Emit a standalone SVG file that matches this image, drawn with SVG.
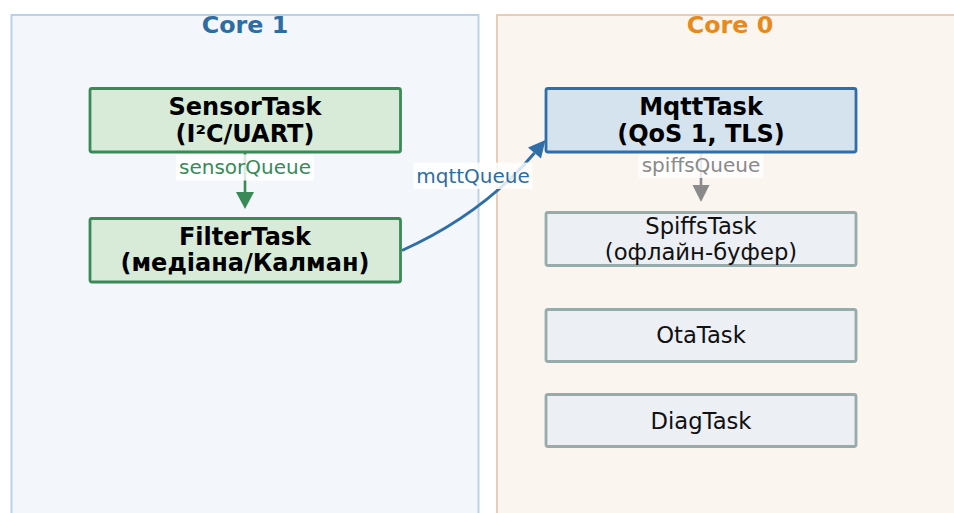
<svg xmlns="http://www.w3.org/2000/svg" width="954" height="513" viewBox="0 0 954 513">
  <style>
    text { font-family: "DejaVu Sans", "Noto Sans", sans-serif; text-anchor: middle; }
    .title { font-size: 23.8px; font-weight: bold; }
    .bold { font-size: 24px; font-weight: bold; fill: #000; }
    .plain { font-size: 22.7px; fill: #111; }
    .qlabel { font-size: 20px; }
    .lblbox { fill: #fff; fill-opacity: 0.82; }
    .green { fill: #d8ebd9; stroke: #3a8a57; stroke-width: 2.8; }
    .blue { fill: #d5e3ef; stroke: #2f6ea6; stroke-width: 2.8; }
    .gray { fill: #eceff4; stroke: #98abab; stroke-width: 2.8; }
  </style>
  <defs>
    <marker id="head-green" markerUnits="userSpaceOnUse" viewBox="-1 -10 20 20" markerWidth="20" markerHeight="20" refX="0" refY="0" orient="auto" overflow="visible">
      <path d="M0,-9 L17,0 L0,9 z" fill="#3a8a57"/>
    </marker>
    <marker id="head-gray" markerUnits="userSpaceOnUse" viewBox="-1 -10 20 20" markerWidth="20" markerHeight="20" refX="0" refY="0" orient="auto" overflow="visible">
      <path d="M0,-8.5 L17,0 L0,8.5 z" fill="#8a8a8a"/>
    </marker>
    <marker id="head-blue" markerUnits="userSpaceOnUse" viewBox="-1 -10 20 20" markerWidth="20" markerHeight="20" refX="0" refY="0" orient="auto" overflow="visible">
      <path d="M0,-8.5 L17,0 L0,8.5 z" fill="#2f6ea6"/>
    </marker>
  </defs>

  <rect width="954" height="513" fill="#fff"/>

  <!-- core panels -->
  <g id="core1">
    <rect x="11.5" y="15" width="467" height="510" fill="#f3f7fc" stroke="#bcd1e6" stroke-width="2"/>
    <text class="title" x="245" y="33" fill="#2e6da4">Core 1</text>
  </g>
  <g id="core0">
    <rect x="497" y="15" width="470" height="510" fill="#faf5ef" stroke="#e5cdb9" stroke-width="2"/>
    <text class="title" x="730" y="33" fill="#e8891c">Core 0</text>
  </g>

  <!-- connectors -->
  <g id="connectors">
    <path d="M245,152 L245,192" stroke="#3a8a57" stroke-width="2.6" fill="none" marker-end="url(#head-green)"/>
    <path d="M701,152 L701,185" stroke="#8a8a8a" stroke-width="2.6" fill="none" marker-end="url(#head-gray)"/>
    <path d="M402,250.5 Q483,214 534.5,153" stroke="#2f6ea6" stroke-width="3" fill="none" marker-end="url(#head-blue)"/>
    <g id="label-sensorQueue">
      <rect class="lblbox" x="176" y="154.5" width="138" height="26" rx="2"/>
      <text class="qlabel" x="245" y="173.5" fill="#3a8a57">sensorQueue</text>
    </g>
    <g id="label-spiffsQueue">
      <rect class="lblbox" x="638.5" y="151" width="125" height="27" rx="2"/>
      <text class="qlabel" x="701" y="171.5" fill="#8a8a8a">spiffsQueue</text>
    </g>
    <g id="label-mqttQueue">
      <rect class="lblbox" x="413.5" y="162.5" width="119" height="26.5" rx="2"/>
      <text class="qlabel" x="473" y="182.5" fill="#2e6da4">mqttQueue</text>
    </g>
  </g>

  <!-- tasks -->
  <g id="SensorTask">
    <rect class="green" x="90" y="88.5" width="310.5" height="63.5" rx="2"/>
    <text class="bold" x="245" y="115">SensorTask</text>
    <text class="bold" x="245" y="142">(I²C/UART)</text>
  </g>
  <g id="FilterTask">
    <rect class="green" x="90" y="218.5" width="310.5" height="63.5" rx="2"/>
    <text class="bold" x="245" y="244.5">FilterTask</text>
    <text class="bold" x="245" y="271">(медіана/Калман)</text>
  </g>
  <g id="MqttTask">
    <rect class="blue" x="546" y="88.5" width="310" height="63.5" rx="2"/>
    <text class="bold" x="701" y="115">MqttTask</text>
    <text class="bold" x="701" y="142">(QoS 1, TLS)</text>
  </g>
  <g id="SpiffsTask">
    <rect class="gray" x="546" y="212.5" width="310" height="53" rx="2"/>
    <text class="plain" x="701" y="233.5">SpiffsTask</text>
    <text class="plain" x="701" y="259.5">(офлайн-буфер)</text>
  </g>
  <g id="OtaTask">
    <rect class="gray" x="546" y="309.5" width="310" height="52" rx="2"/>
    <text class="plain" x="701" y="343">OtaTask</text>
  </g>
  <g id="DiagTask">
    <rect class="gray" x="546" y="394.5" width="310" height="52" rx="2"/>
    <text class="plain" x="701" y="428.5">DiagTask</text>
  </g>
</svg>
